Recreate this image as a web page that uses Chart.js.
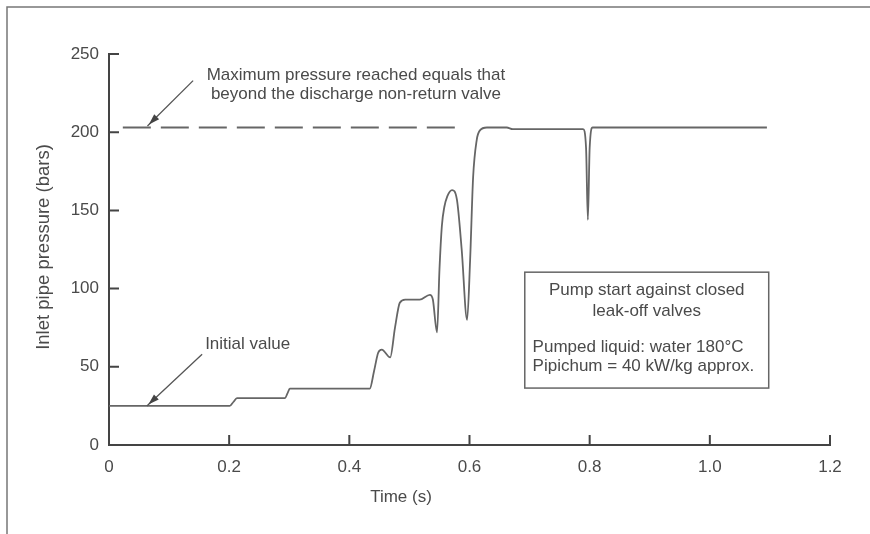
<!DOCTYPE html>
<html>
<head>
<meta charset="utf-8">
<script src="https://cdn.jsdelivr.net/npm/chart.js@4.4.1/dist/chart.umd.min.js"></script>
<style>
  html, body { margin: 0; padding: 0; background: #fff; }
  #wrap { width: 870px; height: 534px; position: relative; }
</style>
</head>
<body>
<div id="wrap"><canvas id="chart" width="870" height="534"></canvas></div>
<script>
// Values
const timeValues = [0, 0.201, 0.207, 0.213, 0.293, 0.297, 0.301, 0.434, 0.441, 0.448, 0.454, 0.468, 0.476, 0.484, 0.493,
  0.517, 0.534, 0.539, 0.546, 0.550, 0.554, 0.558, 0.563, 0.571, 0.579, 0.587, 0.596, 0.601, 0.606, 0.612, 0.617, 0.629,
  0.662, 0.672, 0.789, 0.794, 0.797, 0.800, 0.805, 1.095];
const pressureValues = [25, 25, 27.5, 30, 30, 33, 36, 36, 47, 59, 61, 56, 75, 91, 93,
  93, 96, 93, 72, 112, 140, 152, 159, 163, 157, 125, 80, 118, 171, 195, 201, 203,
  203, 202, 202, 190, 144, 190, 203, 203];

// Dashed reference line (max pressure beyond the non-return valve)
const dashedTime = [0.023, 0.576];
const dashedPressure = [203, 203];

const xTickLabels = ['0', '0.2', '0.4', '0.6', '0.8', '1.0', '1.2'];
const yTickValues = [0, 50, 100, 150, 200, 250];

const textColor = '#4a4a4a';
const fontFamily = '"Liberation Sans", Arial, Helvetica, sans-serif';

function toPoints(xs, ys) {
  return xs.map((x, i) => ({ x: x, y: ys[i] }));
}

// Draws frame, inward ticks, axis titles and the annotations
const decorPlugin = {
  id: 'decor',
  afterDraw(chart) {
    const ctx = chart.ctx;
    const xs = chart.scales.x;
    const ys = chart.scales.y;
    const area = chart.chartArea;
    const px = v => xs.getPixelForValue(v);
    const py = v => ys.getPixelForValue(v);

    ctx.save();

    // outer frame (only top and left visible)
    ctx.strokeStyle = '#777';
    ctx.lineWidth = 1.5;
    ctx.beginPath();
    ctx.moveTo(7, 534);
    ctx.lineTo(7, 7);
    ctx.lineTo(870, 7);
    ctx.stroke();

    // inward tick marks
    ctx.strokeStyle = '#444';
    ctx.lineWidth = 2;
    ctx.beginPath();
    yTickValues.forEach(v => {
      if (v === 0) return;
      ctx.moveTo(area.left, py(v));
      ctx.lineTo(area.left + 10, py(v));
    });
    xTickLabels.forEach((l, i) => {
      if (i === 0) return;
      const x = px(i * 0.2);
      ctx.moveTo(x, area.bottom);
      ctx.lineTo(x, area.bottom - 10);
    });
    ctx.stroke();

    ctx.fillStyle = textColor;
    ctx.font = '17px ' + fontFamily;
    ctx.textBaseline = 'middle';

    // axis titles
    ctx.textAlign = 'center';
    ctx.fillText('Time (s)', 401, 497);
    ctx.save();
    ctx.translate(44, 247);
    ctx.rotate(-Math.PI / 2);
    ctx.font = '18.5px ' + fontFamily;
    ctx.fillText('Inlet pipe pressure (bars)', 0, 0);
    ctx.restore();

    // top annotation
    ctx.fillText('Maximum pressure reached equals that', px(0.411), py(236.4));
    ctx.fillText('beyond the discharge non-return valve', px(0.411), py(224));

    // initial value
    ctx.textAlign = 'left';
    ctx.fillText('Initial value', px(0.160), py(64.5));

    // arrows
    function arrow(x1, y1, x2, y2) {
      const ax1 = px(x1), ay1 = py(y1), ax2 = px(x2), ay2 = py(y2);
      ctx.strokeStyle = '#555';
      ctx.lineWidth = 1.3;
      ctx.beginPath();
      ctx.moveTo(ax1, ay1);
      ctx.lineTo(ax2, ay2);
      ctx.stroke();
      const ang = Math.atan2(ay2 - ay1, ax2 - ax1);
      const len = 11, w = 3.5;
      const tx = ax2 - Math.cos(ang) * 2, ty = ay2 - Math.sin(ang) * 2;
      ctx.beginPath();
      ctx.moveTo(tx, ty);
      ctx.lineTo(tx - Math.cos(ang) * len - Math.sin(ang) * w, ty - Math.sin(ang) * len + Math.cos(ang) * w);
      ctx.lineTo(tx - Math.cos(ang) * len + Math.sin(ang) * w, ty - Math.sin(ang) * len - Math.cos(ang) * w);
      ctx.closePath();
      ctx.fillStyle = '#444';
      ctx.fill();
    }
    arrow(0.140, 233, 0.064, 204);
    arrow(0.155, 58, 0.063, 25);

    // info box
    ctx.strokeStyle = '#666';
    ctx.lineWidth = 1.5;
    const bx1 = px(0.692), bx2 = px(1.098), by1 = py(110.5), by2 = py(36.4);
    ctx.strokeRect(bx1, by1, bx2 - bx1, by2 - by1);
    ctx.fillStyle = textColor;
    ctx.textAlign = 'center';
    ctx.fillText('Pump start against closed', px(0.895), py(99));
    ctx.fillText('leak-off valves', px(0.895), py(85.6));
    ctx.textAlign = 'left';
    ctx.fillText('Pumped liquid: water 180\u00B0C', px(0.705), py(62.6));
    ctx.fillText('Pipichum = 40 kW/kg approx.', px(0.705), py(50));

    ctx.restore();
  }
};

const chart = new Chart(document.getElementById('chart').getContext('2d'), {
  type: 'line',
  data: {
    datasets: [
      {
        data: toPoints(timeValues, pressureValues),
        borderColor: '#666',
        borderWidth: 1.8,
        pointRadius: 0,
        cubicInterpolationMode: 'monotone',
        fill: false
      },
      {
        data: toPoints(dashedTime, dashedPressure),
        borderColor: '#666',
        borderWidth: 1.8,
        borderDash: [28, 10],
        pointRadius: 0,
        fill: false
      }
    ]
  },
  options: {
    responsive: false,
    animation: false,
    layout: { padding: { left: 0, right: 40, top: 54, bottom: 0 } },
    plugins: { legend: { display: false }, tooltip: { enabled: false } },
    scales: {
      x: {
        type: 'linear',
        min: 0,
        max: 1.2,
        ticks: {
          stepSize: 0.2,
          padding: 12,
          color: textColor,
          font: { size: 17, family: fontFamily },
          callback: (v, i) => xTickLabels[i]
        },
        grid: { display: false, drawTicks: false },
        border: { display: true, color: '#444', width: 2 },
        afterFit: s => { s.height = 89; }
      },
      y: {
        min: 0,
        max: 250,
        ticks: {
          stepSize: 50,
          padding: 10,
          color: textColor,
          font: { size: 17, family: fontFamily }
        },
        grid: { display: false, drawTicks: false },
        border: { display: true, color: '#444', width: 2 },
        afterFit: s => { s.width = 109; }
      }
    }
  },
  plugins: [decorPlugin]
});
</script>
</body>
</html>
